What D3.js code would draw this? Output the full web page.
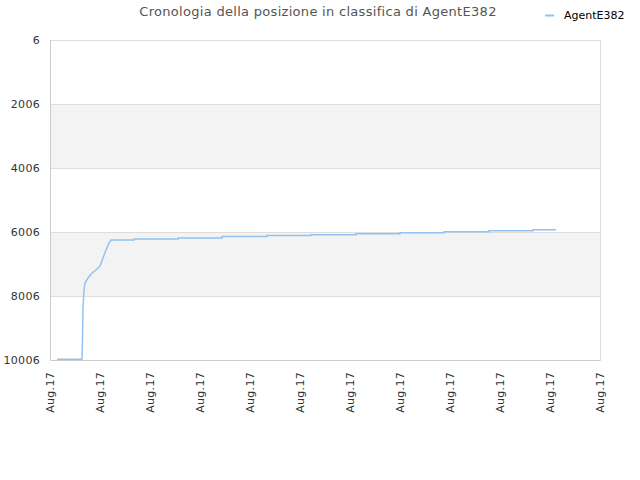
<!DOCTYPE html>
<html><head><meta charset="utf-8">
<script src="https://cdn.jsdelivr.net/npm/d3@7/dist/d3.min.js"></script>
<style>
body{margin:0;background:#fff;}
svg{display:block;font-family:"DejaVu Sans",sans-serif;}
</style></head>
<body>
<svg id="c" width="640" height="480"></svg>
<script>
// Data (time in days from first tick, rank)
const days =  [0.14, 0.64, 0.65, 0.66, 0.68, 0.70, 0.76, 0.84, 0.92, 1.00, 1.06, 1.12, 1.18, 1.22, 1.68, 1.68, 2.56, 2.56, 3.44, 3.44, 4.34, 4.34, 5.22, 5.22, 6.12, 6.12, 7.00, 7.00, 7.88, 7.88, 8.78, 8.78, 9.66, 9.66, 10.12];
const ranks = [9980, 9980, 9381, 8381, 7818, 7600, 7443, 7287, 7193, 7068, 6818, 6568, 6350, 6256, 6256, 6225, 6225, 6194, 6194, 6147, 6147, 6115, 6115, 6090, 6090, 6059, 6059, 6028, 6028, 5997, 5997, 5965, 5965, 5934, 5934];
const yTicks = [6, 2006, 4006, 6006, 8006, 10006];
const xTickLabels = ["Aug.17","Aug.17","Aug.17","Aug.17","Aug.17","Aug.17","Aug.17","Aug.17","Aug.17","Aug.17","Aug.17","Aug.17"];
const seriesName = "AgentE382";
const title = "Cronologia della posizione in classifica di AgentE382";

const svg = d3.select("#c");
const L = 50, R = 600, T = 40, B = 360;
const x = d3.scaleLinear().domain([0, xTickLabels.length - 1]).range([L, R]);
const y = d3.scaleLinear().domain([6, 10006]).range([T, B]);

// bands
for (let i = 0; i < yTicks.length - 1; i++) {
  if (i % 2 === 1) {
    svg.append("rect").attr("x", L).attr("y", y(yTicks[i])).attr("width", R - L)
      .attr("height", y(yTicks[i + 1]) - y(yTicks[i])).attr("fill", "#f3f3f3");
  }
}
// grid
svg.append("g").selectAll("line").data(yTicks).join("line")
  .attr("x1", L).attr("x2", R).attr("y1", d => Math.round(y(d)) + 0.5).attr("y2", d => Math.round(y(d)) + 0.5)
  .attr("stroke", "#dddddd").attr("stroke-width", 1);
// frame
svg.append("line").attr("x1", L + 0.5).attr("x2", L + 0.5).attr("y1", T).attr("y2", B + 0.5).attr("stroke", "#cccccc");
svg.append("line").attr("x1", R + 0.5).attr("x2", R + 0.5).attr("y1", T).attr("y2", B + 0.5).attr("stroke", "#dddddd");

// y axis labels
const yAxis = d3.axisLeft(y).tickValues(yTicks).tickSize(0).tickPadding(10).tickFormat(d3.format("d"));
const gy = svg.append("g").attr("transform", `translate(${L},0)`).call(yAxis);
gy.select(".domain").remove();
gy.selectAll("text").attr("fill", "#333").style("font-size", "11px").style("font-family", "DejaVu Sans")
  .style("letter-spacing", "0.3px");

// x axis
const xAxis = d3.axisBottom(x).tickValues(d3.range(xTickLabels.length)).tickSize(0).tickFormat(i => xTickLabels[i]);
const gx = svg.append("g").attr("transform", `translate(0,${B})`).call(xAxis);
gx.select(".domain").attr("stroke", "#cccccc");
gx.selectAll("text").attr("fill", "#333").style("font-size", "11px").style("font-family", "DejaVu Sans")
  .style("letter-spacing", "0.3px")
  .attr("transform", "rotate(-90)").attr("text-anchor", "end").attr("x", -12).attr("y", 0).attr("dy", "0.35em");

// line
const data = days.map((d, i) => [d, ranks[i]]);
svg.append("path").datum(data)
  .attr("fill", "none").attr("stroke", "#92c2f2").attr("stroke-width", 1.5)
  .attr("d", d3.line().x(d => x(d[0])).y(d => y(d[1])));

// title
svg.append("text").attr("x", 318).attr("y", 16).attr("text-anchor", "middle")
  .attr("fill", "#555").style("font-size", "13px").style("letter-spacing", "0.3px").text(title);

// legend
svg.append("line").attr("x1", 545).attr("x2", 554).attr("y1", 15.5).attr("y2", 15.5)
  .attr("stroke", "#92c2f2").attr("stroke-width", 2);
svg.append("text").attr("x", 564).attr("y", 19).attr("fill", "#000").style("font-size", "11px").text(seriesName);
</script>
</body></html>
